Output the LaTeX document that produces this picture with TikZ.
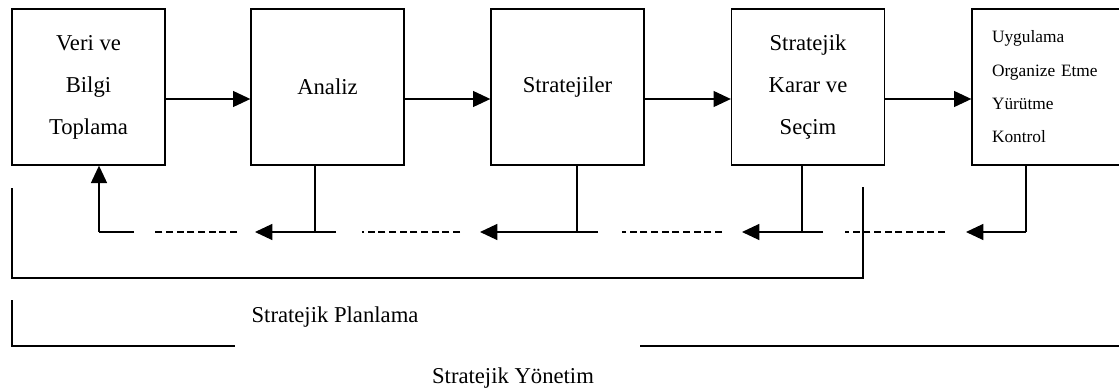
\documentclass[tikz,border=0pt]{standalone}
\usepackage{fontspec}
\setmainfont{Liberation Serif}
\usetikzlibrary{arrows.meta}

\tikzset{
  kutu/.style={draw, line width=1pt, minimum width=114.75pt, minimum height=117pt, inner sep=0pt, align=center, font=\fontsize{17}{31.5}\selectfont},
  ok/.style={line width=1pt, -{Triangle[length=13pt,width=12pt]}},
  cizgi/.style={line width=1pt},
  kesik/.style={line width=1pt, dash pattern=on 5.3pt off 2.7pt},
  etiket/.style={inner sep=0pt, font=\fontsize{17}{20}\selectfont}
}

\begin{document}
\begin{tikzpicture}[x=0.75pt,y=0.75pt,yscale=-1,xscale=1]
\useasboundingbox (0,0) rectangle (1119,389);

%Shape: Rectangle (boxes)
\node[kutu] (veri) at (88.5,87) {Veri ve\\Bilgi\\Toplama};
\node[kutu] (analiz) at (327.5,87) {Analiz};
\node[kutu] (strateji) at (567.5,87) {Stratejiler};
\node[kutu] (karar) at (808,87) {Stratejik\\Karar ve\\Seçim};
\node[kutu, align=left, text width=84.75pt, inner xsep=15pt, font=\fontsize{13}{25}\selectfont] (uygulama) at (1048.5,87) {Uygulama\\Organize Etme\\Yürütme\\Kontrol};

%Shape: Arrows forward
\draw[ok] ([yshift=9pt]veri.east) -- ([yshift=9pt]analiz.west);
\draw[ok] ([yshift=9pt]analiz.east) -- ([yshift=9pt]strateji.west);
\draw[ok] ([yshift=9pt]strateji.east) -- ([yshift=9pt]karar.west);
\draw[ok] ([yshift=9pt]karar.east) -- ([yshift=9pt]uygulama.west);

% feedback line points
\coordinate (g5) at (1026,232);
\coordinate (u5) at (966,232);
\coordinate (d5a) at (945,232);
\coordinate (d5b) at (845,232);
\coordinate (g4) at (823,232);
\coordinate (k4) at (802,232);
\coordinate (u4) at (742,232);
\coordinate (d4a) at (722,232);
\coordinate (d4b) at (622,232);
\coordinate (g3) at (598,232);
\coordinate (k3) at (577,232);
\coordinate (u3) at (480,232);
\coordinate (d3a) at (460,232);
\coordinate (d3b) at (362,232);
\coordinate (g2) at (336,232);
\coordinate (k2) at (315,232);
\coordinate (u2) at (255,232);
\coordinate (d2a) at (237,232);
\coordinate (d2b) at (152,232);
\coordinate (g1) at (134,232);
\coordinate (k1) at (99,232);

%Shape: Feedback
\draw[cizgi] (uygulama.south -| g5) -- (g5);
\draw[ok] (g5) -- (u5);
\draw[kesik] (d5a) -- (d5b);
\draw[cizgi] (karar.south -| k4) -- (k4);
\draw[ok] (g4) -- (u4);
\draw[kesik] (d4a) -- (d4b);
\draw[cizgi] (strateji.south -| k3) -- (k3);
\draw[ok] (g3) -- (u3);
\draw[kesik] (d3a) -- (d3b);
\draw[cizgi] (analiz.south -| k2) -- (k2);
\draw[ok] (g2) -- (u2);
\draw[kesik] (d2a) -- (d2b);
\draw[cizgi] (g1) -- (k1);
\draw[ok] (k1) -- (veri.south -| k1);

%Shape: Brackets
\draw[cizgi] (12,188) -- (12,278) -- (863,278) -- (863,187);
\draw[cizgi] (12,300) -- (12,346) -- (235,346);
\draw[cizgi] (640,346) -- (1125,346);

% Text Node
\node[etiket] (planlama) at (335,317) {Stratejik Planlama};
% Text Node
\node[etiket] (yonetim) at (513,378) {Stratejik Yönetim};

\end{tikzpicture}
\end{document}
